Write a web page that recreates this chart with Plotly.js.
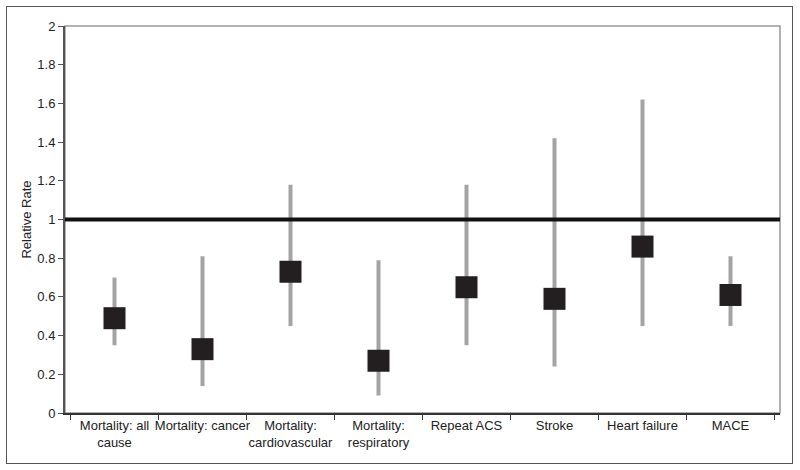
<!DOCTYPE html>
<html>
<head>
<meta charset="utf-8">
<script src="https://cdn.plot.ly/plotly-3.0.1.min.js"></script>
<style>
  body { margin: 0; background: #fff; }
  #frame {
    position: absolute; left: 6px; top: 6px; width: 785px; height: 456px;
    border: 1.5px solid #555;
  }
  #chart { position: absolute; left: 0; top: 0; width: 800px; height: 470px; }
</style>
</head>
<body>
<div id="frame"></div>
<div id="chart"></div>
<script>
// 各結果的相對比率與 95% 信賴區間
const outcomes = [
    "Mortality: all<br>cause",
    "Mortality: cancer",
    "Mortality:<br>cardiovascular",
    "Mortality:<br>respiratory",
    "Repeat ACS",
    "Stroke",
    "Heart failure",
    "MACE",
];
const relativeRate = [0.49, 0.33, 0.73, 0.27, 0.65, 0.59, 0.86, 0.61];
const ciLower = [0.35, 0.14, 0.45, 0.09, 0.35, 0.24, 0.45, 0.45];
const ciUpper = [0.70, 0.81, 1.18, 0.79, 1.18, 1.42, 1.62, 0.81];
const referenceRate = 1;

const trace = {
    x: outcomes,
    y: relativeRate,
    type: "scatter",
    mode: "markers",
    marker: { symbol: "square", size: 22, color: "#231f20" },
    error_y: {
        type: "data",
        symmetric: false,
        array: ciUpper.map((u, i) => u - relativeRate[i]),
        arrayminus: ciLower.map((l, i) => relativeRate[i] - l),
        color: "#a3a3a3",
        thickness: 4,
        width: 0,
    },
    hoverinfo: "x+y",
};

const layout = {
    width: 800,
    height: 470,
    margin: { l: 65, r: 20, t: 26, b: 57 },
    paper_bgcolor: "rgba(0,0,0,0)",
    plot_bgcolor: "#fff",
    showlegend: false,
    font: { family: "Liberation Sans, Arial, sans-serif", size: 13, color: "#222" },
    xaxis: {
        type: "category",
        tickson: "boundaries",
        tickangle: 0,
        ticks: "outside",
        ticklen: 5,
        tickcolor: "#333",
        showline: true,
        linecolor: "#333",
        linewidth: 1.5,
        showgrid: false,
        zeroline: false,
        tickfont: { size: 13 },
    },
    yaxis: {
        range: [0, 2],
        dtick: 0.2,
        ticks: "outside",
        ticklen: 5,
        tickcolor: "#555",
        showline: true,
        linecolor: "#555",
        linewidth: 2,
        showgrid: false,
        zeroline: false,
        tickfont: { size: 13 },
        title: { text: "Relative Rate", font: { size: 13 }, standoff: 3 },
    },
    shapes: [
        {
            type: "rect", xref: "paper", yref: "paper",
            x0: 0, x1: 1, y0: 0, y1: 1,
            line: { color: "#999", width: 1.5 }, layer: "below",
        },
        {
            type: "line", xref: "paper", yref: "y",
            x0: 0, x1: 1, y0: referenceRate, y1: referenceRate,
            line: { color: "#111", width: 4 },
        },
    ],
};

Plotly.newPlot("chart", [trace], layout, { displayModeBar: false, staticPlot: true });
</script>
</body>
</html>
